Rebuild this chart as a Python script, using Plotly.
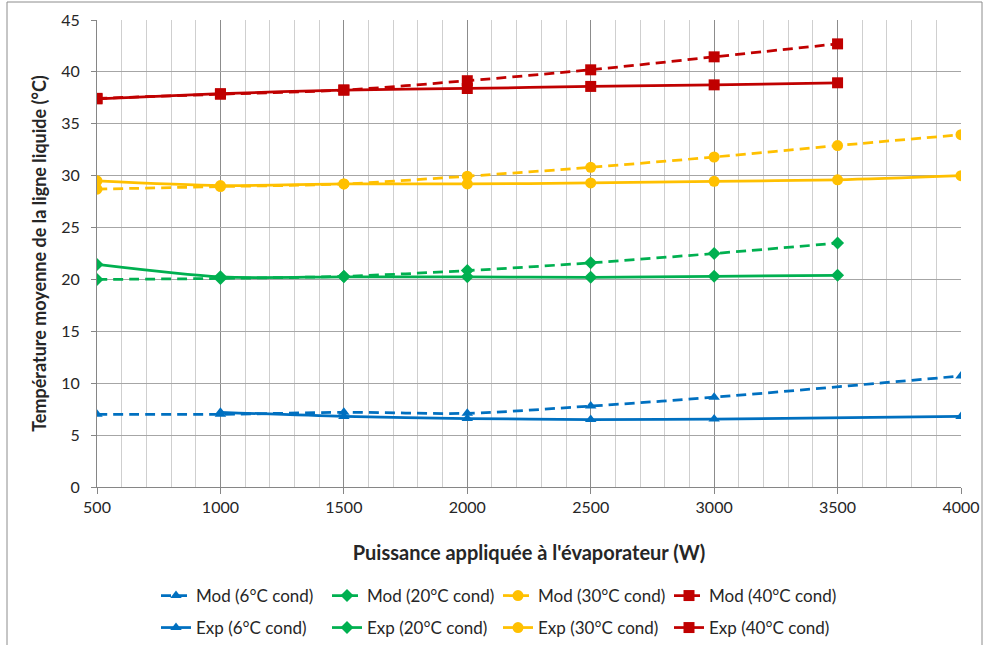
import plotly.graph_objects as go

# ---- data ----
x_all = [500, 1000, 1500, 2000, 2500, 3000, 3500, 4000]
x_upto3500 = [500, 1000, 1500, 2000, 2500, 3000, 3500]

x_mod6 = [500, 1000, 1500, 2000, 2500, 3000, 4000]
mod6 = [7.0, 7.0, 7.2, 7.1, 7.8, 8.65, 10.7]
x_exp6 = [1000, 1500, 2000, 2500, 3000, 4000]
exp6 = [7.2, 6.8, 6.6, 6.5, 6.55, 6.8]

mod20 = [20.0, 20.1, 20.3, 20.85, 21.6, 22.5, 23.5]
exp20 = [21.45, 20.25, 20.25, 20.25, 20.2, 20.3, 20.4]

mod30 = [28.7, 28.95, 29.2, 29.95, 30.8, 31.8, 32.9, 33.95]
exp30 = [29.5, 29.05, 29.2, 29.2, 29.3, 29.45, 29.6, 30.0]

mod40 = [37.45, 37.85, 38.25, 39.15, 40.2, 41.45, 42.7]
exp40 = [37.4, 37.9, 38.25, 38.4, 38.6, 38.75, 38.95]

x_ticks = [500, 1000, 1500, 2000, 2500, 3000, 3500, 4000]
y_ticks = [0, 5, 10, 15, 20, 25, 30, 35, 40, 45]

x_title = "Puissance appliquée à l'évaporateur (W)"
y_title = "Température moyenne de la ligne liquide (°C)"

BLUE, GREEN, YELLOW, RED = "#0070C0", "#00B050", "#FFC000", "#C00000"
FONT = "Lato, 'Open Sans', sans-serif"

series = [
    ("Mod (6°C cond)", x_mod6, mod6, BLUE, "triangle-up", 10, "dash", "legend"),
    ("Mod (20°C cond)", x_upto3500, mod20, GREEN, "diamond", 10, "dash", "legend"),
    ("Mod (30°C cond)", x_all, mod30, YELLOW, "circle", 11, "dash", "legend"),
    ("Mod (40°C cond)", x_upto3500, mod40, RED, "square", 11, "dash", "legend"),
    ("Exp (6°C cond)", x_exp6, exp6, BLUE, "triangle-up", 10, "solid", "legend2"),
    ("Exp (20°C cond)", x_upto3500, exp20, GREEN, "diamond", 10, "solid", "legend2"),
    ("Exp (30°C cond)", x_all, exp30, YELLOW, "circle", 11, "solid", "legend2"),
    ("Exp (40°C cond)", x_upto3500, exp40, RED, "square", 11, "solid", "legend2"),
]

fig = go.Figure()
for name, xs, ys, col, sym, sz, dash, leg in series:
    fig.add_trace(go.Scatter(
        x=xs, y=ys, name=name, mode="lines+markers",
        line=dict(color=col, width=2.75, dash=("10px,6px" if dash == "dash" else "solid"),
                  shape="spline", smoothing=0.8),
        marker=dict(symbol=sym, size=sz, color=col),
        legend=leg,
    ))

W, H = 983, 645
L, R, T, B = 97, 22, 20, 158
ph = H - T - B

def py(px):
    return (H - B - px) / ph

def px_(x):
    return (x - L) / (W - L - R)

legend_common = dict(
    orientation="h", xanchor="left", yanchor="middle",
    font=dict(family=FONT, size=17, color="#262626"),
    entrywidth=126, entrywidthmode="pixels",
    bgcolor="rgba(0,0,0,0)", itemwidth=30, tracegroupgap=0,
)

fig.update_layout(
    width=W, height=H,
    margin=dict(l=L, r=R, t=T, b=B, autoexpand=False),
    paper_bgcolor="white", plot_bgcolor="white",
    font=dict(family=FONT, size=16, color="#262626"),
    legend=dict(x=px_(156), y=py(596), **legend_common),
    legend2=dict(x=px_(156), y=py(628), **legend_common),
    xaxis=dict(
        range=[500, 4000], tickvals=x_ticks, ticktext=[str(v) for v in x_ticks],
        showgrid=True, gridcolor="#8c8c8c", gridwidth=1,
        minor=dict(dtick=100, tick0=500, showgrid=True, gridcolor="#cfcfcf", gridwidth=1),
        showline=True, linecolor="#868686", linewidth=1,
        ticks="outside", ticklen=6, tickcolor="#868686",
        ticklabelstandoff=0, automargin=False,
        zeroline=False,
        tickfont=dict(family=FONT, size=16, color="#262626"),
        title=dict(text="<b>" + x_title + "</b>", font=dict(family=FONT, size=20, color="#262626"),
                   standoff=30),
    ),
    yaxis=dict(
        range=[0, 45], tickvals=y_ticks,
        showgrid=True, gridcolor="#a6a6a6", gridwidth=1,
        showline=True, linecolor="#868686", linewidth=1,
        ticks="outside", ticklen=5, tickcolor="#868686",
        ticklabelstandoff=8, automargin=False,
        zeroline=False,
        tickfont=dict(family=FONT, size=16, color="#262626"),
        title=dict(text="<b>" + y_title + "</b>", font=dict(family=FONT, size=18, color="#262626"),
                   standoff=9),
    ),
    shapes=[dict(type="rect", xref="paper", yref="paper",
                 x0=px_(7), x1=px_(982), y0=py(700), y1=py(2),
                 line=dict(color="#8c8c8c", width=1), fillcolor="rgba(0,0,0,0)", layer="below")],
)

fig.write_html("out.html",
               config={"displayModeBar": False},
               post_script="document.body.style.margin='0';document.body.style.padding='0';")
